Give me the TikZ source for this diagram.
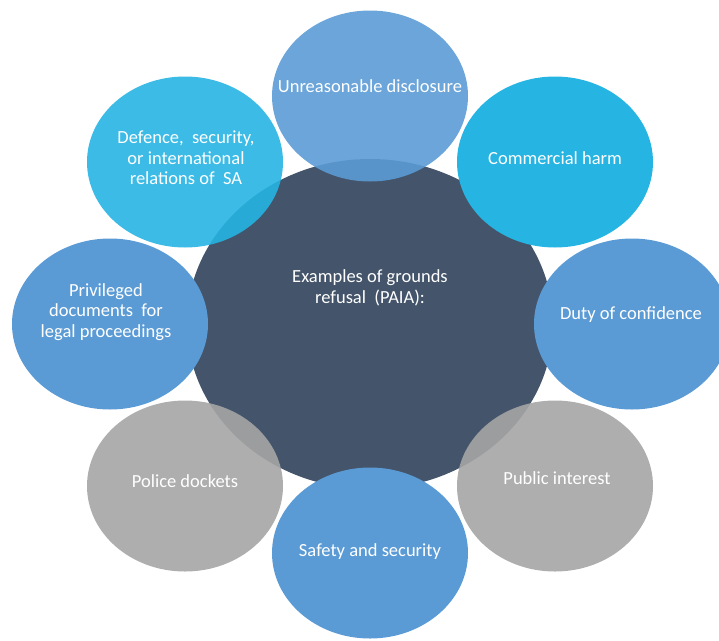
\documentclass[tikz,border=0pt]{standalone}
\usepackage{fontspec}
\setmainfont{Carlito}
\usetikzlibrary{shapes.geometric}
\definecolor{darkc}{HTML}{44546A}
\definecolor{bluec}{HTML}{5B9BD5}
\definecolor{cyanc}{HTML}{26B4E3}
\definecolor{greyc}{HTML}{A5A5A5}
\begin{document}
\begin{tikzpicture}[x=1pt,y=-1pt,
  bub/.style={ellipse,draw=none,minimum width=196pt,minimum height=171pt,inner sep=0pt},
  see/.style={fill opacity=0.9},
  lbl/.style={text=white,align=center,inner sep=0pt,font=\fontsize{18.5}{20.5}\selectfont}]
\useasboundingbox (0,0) rectangle (719,640);
\node[ellipse,fill=darkc,minimum width=366pt,minimum height=330pt,inner sep=0pt] (core) at (370,324) {};
\node[bub,fill=bluec,see] (top) at (370,96) {};
\node[bub,fill=cyanc] (comm) at (555,162) {};
\node[bub,fill=bluec] (duty) at (632,324) {};
\node[bub,fill=greyc,see] (pub) at (555,486) {};
\node[bub,fill=bluec] (safe) at (370,553) {};
\node[bub,fill=greyc,see] (pol) at (185,486) {};
\node[bub,fill=bluec] (priv) at (110,324) {};
\node[bub,fill=cyanc,see] (def) at (185,162) {};
\node[lbl] (tcore) at (370,288) {Examples of grounds\\refusal~ (PAIA):};
\node[lbl] (ttop) at (370,86) {Unreasonable disclosure};
\node[lbl] (tcomm) at (555,158) {Commercial harm};
\node[lbl] (tduty) at (631,315) {Duty of confidence};
\node[lbl] (tpub) at (557,478) {Public interest};
\node[lbl] (tsafe) at (370,552) {Safety and security};
\node[lbl] (tpol) at (185,481) {Police dockets};
\node[lbl] (tpriv) at (106,312) {Privileged\\documents~ for\\legal proceedings};
\node[lbl] (tdef) at (186,158) {Defence,~ security,\\or international\\relations of~ SA};
\end{tikzpicture}
\end{document}
